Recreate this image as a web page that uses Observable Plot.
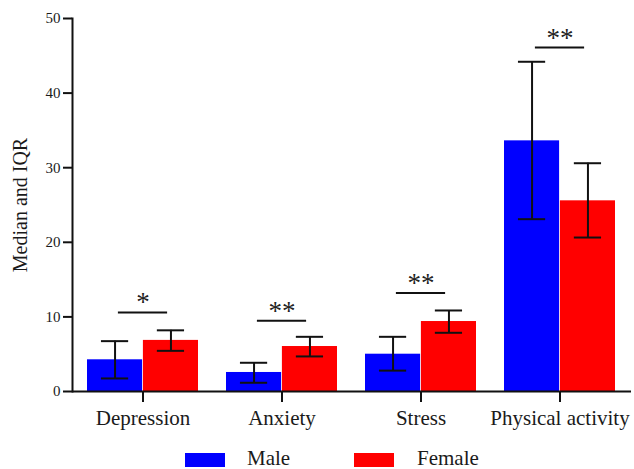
<!DOCTYPE html>
<html>
<head>
<meta charset="utf-8">
<script src="https://cdn.jsdelivr.net/npm/d3@7"></script>
<script src="https://cdn.jsdelivr.net/npm/@observablehq/plot@0.6"></script>
<style>
  html, body { margin: 0; padding: 0; background: #fff; }
  #wrap { width: 634px; height: 469px; position: relative; font-family: "Liberation Serif", "DejaVu Serif", serif; }
  #chart svg g[aria-label="x-axis tick label"] { font-size: 21px; }
  #chart svg g[aria-label="y-axis label"] { font-size: 20px; }
  #chart svg g[aria-label="y-axis tick"], #chart svg g[aria-label="x-axis tick"],
  #chart svg g[aria-label="y-axis line"], #chart svg [aria-label="frame"] { stroke-width: 2px; stroke: #111; }
  #legend { position: relative; height: 29px; font-size: 21px; color: #1a1a1a; }
  .sw { position: absolute; top: 13px; width: 40px; height: 14px; }
  .lt { position: absolute; top: 8px; line-height: 20px; }
</style>
</head>
<body>
<div id="wrap">
  <div id="chart"></div>
  <div id="legend"></div>
</div>
<script>
// ---- data ----
const categories   = ["Depression", "Anxiety", "Stress", "Physical activity"];
const groups       = ["Male", "Female"];
const groupColors  = ["#0000ff", "#ff0000"];
const maleMedian   = [4.25, 2.55, 5.0, 33.6];
const maleQ1       = [1.75, 1.17, 2.8, 23.1];
const maleQ3       = [6.75, 3.85, 7.33, 44.2];
const femaleMedian = [6.85, 6.03, 9.38, 25.56];
const femaleQ1     = [5.45, 4.7, 7.87, 20.64];
const femaleQ3     = [8.2, 7.33, 10.86, 30.6];
const sigLabels    = ["*", "**", "**", "**"];
const sigLevel     = [10.6, 9.5, 13.2, 46.1];
const yTicks       = [0, 10, 20, 30, 40, 50];

// ---- layout ----
const W = 634, H = 440;
const mL = 72, mR = 3, mT = 18, mB = 49;
const padIn = 0.2, padOut = 0.1;
const band = d3.scaleBand().domain(categories).range([mL, W - mR]).paddingInner(padIn).paddingOuter(padOut);
const bw = band.bandwidth();
const half = bw / 2;
const capW = 28, sigW = 50;

const rows = [];
categories.forEach((c, i) => {
  rows.push({category: c, group: "Male", median: maleMedian[i], q1: maleQ1[i], q3: maleQ3[i]});
  rows.push({category: c, group: "Female", median: femaleMedian[i], q1: femaleQ1[i], q3: femaleQ3[i]});
});
const male = rows.filter(d => d.group === "Male");
const female = rows.filter(d => d.group === "Female");
const sig = categories.map((c, i) => ({category: c, level: sigLevel[i], label: sigLabels[i]}));

const capInset = (bw - capW) / 2;
const plot = Plot.plot({
  width: W, height: H,
  marginLeft: mL, marginRight: mR, marginTop: mT, marginBottom: mB,
  style: {fontFamily: "'Liberation Serif', 'DejaVu Serif', serif", fontSize: "15px", color: "#1a1a1a", background: "#fff"},
  x: {domain: categories, paddingInner: padIn, paddingOuter: padOut, tickSize: 11, tickPadding: 8, label: null},
  y: {domain: [0, 50], ticks: yTicks, tickSize: 9, tickPadding: 3, line: true,
      label: "Median and IQR", labelArrow: "none", labelAnchor: "center", labelOffset: 60},
  marks: [
    Plot.barY(male, {x: "category", y: "median", fill: groupColors[0], insetRight: half}),
    Plot.barY(female, {x: "category", y: "median", fill: groupColors[1], insetLeft: half}),
    Plot.ruleX(male, {x: "category", y1: "q1", y2: "q3", dx: -bw / 4, stroke: "#111", strokeWidth: 2}),
    Plot.ruleX(female, {x: "category", y1: "q1", y2: "q3", dx: bw / 4, stroke: "#111", strokeWidth: 2}),
    Plot.tickY(male, {x: "category", y: "q1", dx: -bw / 4, insetLeft: capInset, insetRight: capInset, stroke: "#111", strokeWidth: 2}),
    Plot.tickY(male, {x: "category", y: "q3", dx: -bw / 4, insetLeft: capInset, insetRight: capInset, stroke: "#111", strokeWidth: 2}),
    Plot.tickY(female, {x: "category", y: "q1", dx: bw / 4, insetLeft: capInset, insetRight: capInset, stroke: "#111", strokeWidth: 2}),
    Plot.tickY(female, {x: "category", y: "q3", dx: bw / 4, insetLeft: capInset, insetRight: capInset, stroke: "#111", strokeWidth: 2}),
    Plot.tickY(sig, {x: "category", y: "level", insetLeft: (bw - sigW) / 2, insetRight: (bw - sigW) / 2, stroke: "#111", strokeWidth: 2}),
    Plot.text(sig, {x: "category", y: "level", text: "label", dy: -1, lineAnchor: "bottom", fontSize: 27, fill: "#222"}),
    Plot.ruleY([0], {stroke: "#111", strokeWidth: 2})
  ]
});
document.getElementById("chart").appendChild(plot);

// legend
const legend = document.getElementById("legend");
const legendPos = [[185, 247], [354, 417]];
groups.forEach((g, i) => {
  const sw = document.createElement("div");
  sw.className = "sw"; sw.style.left = legendPos[i][0] + "px"; sw.style.background = groupColors[i];
  const t = document.createElement("div");
  t.className = "lt"; t.style.left = legendPos[i][1] + "px"; t.textContent = g;
  legend.appendChild(sw); legend.appendChild(t);
});
</script>
</body>
</html>
